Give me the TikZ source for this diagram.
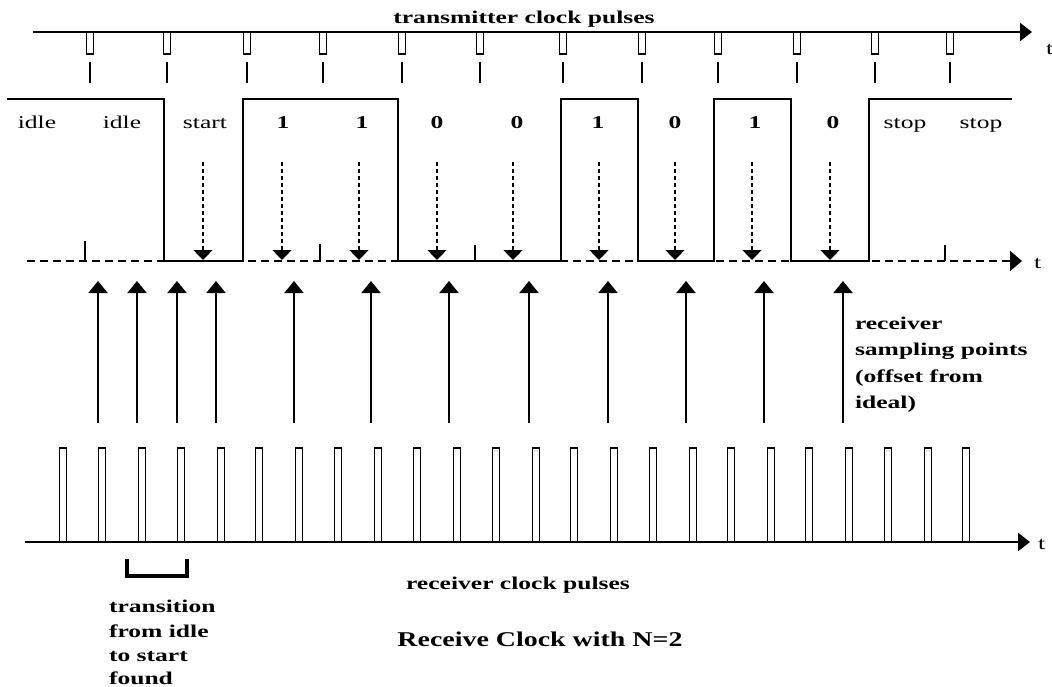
\documentclass[tikz,border=0pt]{standalone}
\usepackage{fontspec}
\setmainfont{Liberation Serif}
\newfontfamily\wserif[FakeStretch=1.42]{Liberation Serif}
\newfontfamily\wserifbig[FakeStretch=1.33]{Liberation Serif}
\usetikzlibrary{arrows.meta}
\newcommand\lblfont{\wserif\fontsize{18}{20}\selectfont}
\newcommand\bldfont{\wserif\bfseries\fontsize{18}{20}\selectfont}
\newcommand\bigfont{\wserifbig\bfseries\fontsize{21}{24}\selectfont}
\begin{document}
\begin{tikzpicture}[x=1pt,y=-1pt,
  every node/.style={inner sep=0pt,outer sep=0pt},
  axisline/.style={line width=2pt,-{Triangle[width=18pt,length=12pt]}},
  dashaxis/.style={line width=2pt,dash pattern=on 8pt off 5pt,-{Triangle[width=20pt,length=12pt]}},
  wave/.style={line width=2pt,line join=miter},
  pulsebox/.style={line width=1.8pt},
  tickline/.style={line width=1.6pt},
  downarrow/.style={line width=1.4pt,dash pattern=on 4pt off 3pt,-{Triangle[width=19pt,length=10pt]}},
  uparrow/.style={line width=2pt,-{Triangle[width=19pt,length=12pt]}},
  bracketline/.style={line width=4pt,line join=miter},
  lbl/.style={anchor=base,font=\lblfont},
  bld/.style={anchor=base,font=\bldfont},
  side/.style={anchor=base west,font=\bldfont,align=left}]
\useasboundingbox (0,0) rectangle (1052,687);

% ---------- transmitter clock ----------
\coordinate (tA) at (33,32);
\coordinate (tB) at (1032,32);
\draw[axisline] (tA) -- (tB);
\node[bld] (ttitle) at (524,24) {transmitter clock pulses};
\node[lbl,anchor=west] (tt1) at (1046,50) {t};
\foreach \x in {90,167,247,323,402,480,563,642,718,797,875,950}{
  \draw[pulsebox] (\x-3.5,32) rectangle (\x+3.5,54);
  \draw[tickline] (\x,62) -- (\x,83);
}

% ---------- data line ----------
\coordinate (dA) at (27,261);
\coordinate (dB) at (1022,261);
\draw[dashaxis] (dA) -- (dB);
\node[lbl,anchor=base west] (tt2) at (1034,268) {t};
\draw[wave] (7,99) -- (164,99) -- (164,261) -- (243,261) -- (243,99)
  -- (398,99) -- (398,261) -- (561,261) -- (561,99) -- (638,99) -- (638,261)
  -- (714,261) -- (714,99) -- (791,99) -- (791,261) -- (869,261) -- (869,99)
  -- (1012,99);
\foreach \x/\y in {85/241,320/244,475/245,945/245}{
  \draw[tickline] (\x,\y) -- (\x,261);
}
\foreach \x/\t [count=\i] in {37/idle,122/idle,205/start,905/stop,981/stop}{
  \node[lbl] (w\i) at (\x,129) {\t};
}
\foreach \x/\t [count=\i] in {283/1,362/1,437/0,517/0,598/1,675/0,755/1,833/0}{
  \node[bld] (b\i) at (\x,129) {\t};
}
\foreach \x in {203,282,359,437,513,599,675,752,830}{
  \draw[downarrow] (\x,162) -- (\x,260);
}

% ---------- sampling points ----------
\foreach \x in {98,137,177,216,294,371,449,529,608,686,764,843}{
  \draw[uparrow] (\x,423) -- (\x,281);
}
\node[bld,anchor=base west] (s1) at (855,329) {receiver};
\node[bld,anchor=base west] (s2) at (855,355) {sampling points};
\node[bld,anchor=base west] (s3) at (855,382) {(offset from};
\node[bld,anchor=base west] (s4) at (855,408) {ideal)};

% ---------- receiver clock ----------
\coordinate (rA) at (25,542);
\coordinate (rB) at (1030,542);
\draw[axisline] (rA) -- (rB);
\node[lbl,anchor=base west] (tt3) at (1038,549) {t};
\foreach \x in {63,102,142,181,221,259,299,338,378,417,457,496,536,574,614,653,693,731,771,809,849,888,928,966}{
  \draw[pulsebox] (\x-3.5,448) rectangle (\x+3.5,542);
}
\draw[bracketline] (127,559) -- (127,576) -- (187,576) -- (187,559);
\node[bld] (rtitle) at (518,589) {receiver clock pulses};
\node[anchor=base,font=\bigfont] (caption) at (540,646) {Receive Clock with N=2};
\node[bld,anchor=base west] (n1) at (109,612) {transition};
\node[bld,anchor=base west] (n2) at (109,637) {from idle};
\node[bld,anchor=base west] (n3) at (109,661) {to start};
\node[bld,anchor=base west] (n4) at (109,684) {found};
\end{tikzpicture}
\end{document}
